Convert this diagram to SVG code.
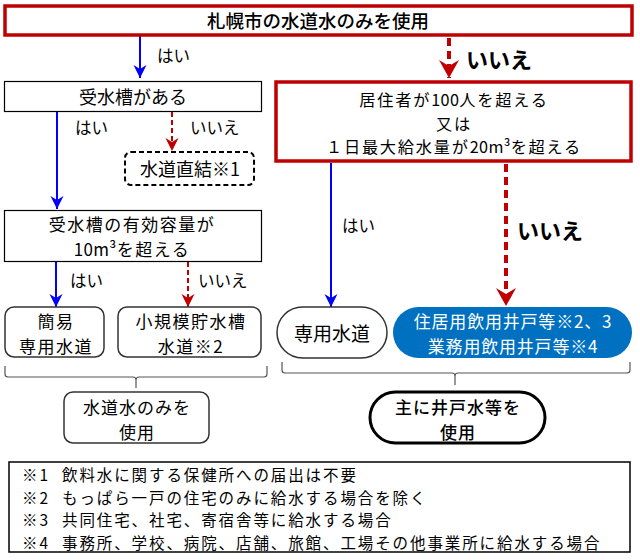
<svg xmlns="http://www.w3.org/2000/svg" width="640" height="560" viewBox="0 0 640 560">
<style>
text{font-family:"Noto Sans CJK JP","Noto Sans",sans-serif;fill:#000;dominant-baseline:central;text-anchor:middle}
.t18{font-size:18px}
.t17{font-size:17px;letter-spacing:1.5px}
.t19{font-size:19px}
.lbl{font-size:16.5px;text-anchor:start}
.big{font-size:22px;font-weight:bold;text-anchor:start}
.fn{font-size:15.5px;text-anchor:start;letter-spacing:1.9px}
.nls{letter-spacing:0.3px}
.box{fill:#fff;stroke:#000;stroke-width:1.2}
.rbox{fill:#fff;stroke:#333;stroke-width:1.5}
.red{fill:#fff;stroke:#c00000;stroke-width:3.5}
.blue{stroke:#0000ff;stroke-width:2;fill:none}
.rd{stroke:#c00000;stroke-width:2;stroke-dasharray:5 3;fill:none}
.rdt{stroke:#c00000;stroke-width:4;stroke-dasharray:8 5;fill:none}
.brace{fill:none;stroke:#555;stroke-width:1.2}
</style>
<defs>
<marker id="ab" markerUnits="userSpaceOnUse" markerWidth="14" markerHeight="14" refX="13" refY="6.5" orient="auto" viewBox="0 0 14 14">
<path d="M0,0 L13,6.5 L0,13 L4,6.5 Z" fill="#0000ff"/>
</marker>
<marker id="ar" markerUnits="userSpaceOnUse" markerWidth="14" markerHeight="14" refX="13" refY="6.5" orient="auto" viewBox="0 0 14 14">
<path d="M0,0 L13,6.5 L0,13 L4,6.5 Z" fill="#c00000"/>
</marker>
<marker id="arb" markerUnits="userSpaceOnUse" markerWidth="20" markerHeight="20" refX="18" refY="10" orient="auto" viewBox="0 0 20 20">
<path d="M0,0 L18,10 L0,20 L6,10 Z" fill="#c00000"/>
</marker>
</defs>

<g id="connectors">
<line class="blue" x1="140" y1="36" x2="140" y2="78" marker-end="url(#ab)"/>
<line class="rdt" x1="449" y1="38" x2="449" y2="78" marker-end="url(#arb)"/>
<line class="blue" x1="57" y1="112" x2="57" y2="209" marker-end="url(#ab)"/>
<line class="rd" x1="172" y1="112" x2="172" y2="151" marker-end="url(#ar)"/>
<line class="blue" x1="56" y1="262" x2="56" y2="307" marker-end="url(#ab)"/>
<line class="rd" x1="188" y1="262" x2="188" y2="307" marker-end="url(#ar)"/>
<line class="blue" x1="331" y1="163" x2="331" y2="307" marker-end="url(#ab)"/>
<line class="rdt" x1="506" y1="164" x2="506" y2="306" marker-end="url(#arb)"/>
<path class="brace" d="M5,366 L5,374 Q5,377 8,377 L133,377 Q136,377 136,380 L136,388 M136,380 Q136,377 139,377 L264,377 Q267,377 267,374 L267,366"/>
<path class="brace" d="M282,362 L282,370 Q282,373 285,373 L452,373 Q455,373 455,376 L455,385 M455,376 Q455,373 458,373 L627,373 Q630,373 630,370 L630,362"/>
<text class="lbl" x="157" y="55">はい</text>
<text class="big" x="466" y="58">いいえ</text>
<text class="lbl" x="75" y="127">はい</text>
<text class="lbl" x="190" y="127">いいえ</text>
<text class="lbl" x="70" y="280">はい</text>
<text class="lbl" x="198" y="280">いいえ</text>
<text class="lbl" x="342" y="225">はい</text>
<text class="big" x="517" y="229">いいえ</text>
</g>

<g id="n-top">
<rect class="red" x="5" y="6" width="627" height="29"/>
<text x="318" y="20" style="font-size:18.5px;font-weight:500">札幌市の水道水のみを使用</text>
</g>

<g id="n-tank">
<rect class="box" x="4.5" y="81.5" width="257" height="30"/>
<text class="t18" x="133" y="96">受水槽がある</text>
</g>

<g id="n-cond">
<rect class="red" x="276" y="82" width="355" height="79"/>
<text style="font-size:16.2px;letter-spacing:1.8px"><tspan x="454" y="99">居住者が<tspan class="nls">100</tspan>人を超える</tspan><tspan x="454" y="122.5">又は</tspan><tspan x="454" y="146">１日最大給水量が<tspan class="nls">20m³</tspan>を超える</tspan></text>
</g>

<g id="n-direct">
<rect x="125" y="152" width="129" height="33" rx="6" fill="#fff" stroke="#000" stroke-width="2" stroke-dasharray="5 3"/>
<text class="t18" x="190" y="168">水道直結※1</text>
</g>

<g id="n-capacity">
<rect class="box" x="4.5" y="210.5" width="257" height="51"/>
<text class="t17"><tspan x="132" y="223">受水槽の有効容量が</tspan><tspan x="132" y="248"><tspan class="nls">10m³</tspan>を超える</tspan></text>
</g>

<g id="n-simple">
<rect class="rbox" x="5" y="307" width="99" height="50" rx="9"/>
<text class="t17"><tspan x="56" y="320">簡易</tspan><tspan x="56" y="345">専用水道</tspan></text>
</g>

<g id="n-small">
<rect class="rbox" x="118" y="307" width="143" height="50" rx="9"/>
<text class="t17"><tspan x="191" y="320">小規模貯水槽</tspan><tspan x="191" y="345">水道※2</tspan></text>
</g>

<g id="n-dedicated">
<rect class="rbox" x="277" y="307" width="110" height="51" rx="25.5"/>
<text class="t19" x="332" y="332">専用水道</text>
</g>

<g id="n-well">
<rect x="393" y="307" width="239" height="51" rx="25.5" fill="#0070c0"/>
<text class="t17" style="fill:#fff;letter-spacing:0.8px"><tspan x="513" y="320">住居用飲用井戸等※2、3</tspan><tspan x="513" y="345">業務用飲用井戸等※4</tspan></text>
</g>

<g id="n-tapwater">
<rect class="rbox" x="64" y="392" width="145" height="51" rx="9"/>
<text class="t17" style="letter-spacing:1px"><tspan x="137" y="406">水道水のみを</tspan><tspan x="137" y="431">使用</tspan></text>
</g>

<g id="n-wellwater">
<rect x="370" y="392" width="175" height="51" rx="25.5" fill="#fff" stroke="#000" stroke-width="3"/>
<text class="t17" style="font-weight:500;letter-spacing:1px"><tspan x="458" y="406">主に井戸水等を</tspan><tspan x="458" y="431">使用</tspan></text>
</g>

<g id="n-notes">
<rect x="9" y="462" width="621" height="90" fill="#fff" stroke="#000" stroke-width="1.5"/>
<text class="fn"><tspan x="22" y="474">※1</tspan><tspan x="62" y="474">飲料水に関する保健所への届出は不要</tspan><tspan x="22" y="496.5">※2</tspan><tspan x="62" y="496.5">もっぱら一戸の住宅のみに給水する場合を除く</tspan><tspan x="22" y="519">※3</tspan><tspan x="62" y="519">共同住宅、社宅、寄宿舎等に給水する場合</tspan><tspan x="22" y="541.5">※4</tspan><tspan x="62" y="541.5">事務所、学校、病院、店舗、旅館、工場その他事業所に給水する場合</tspan></text>
</g>
</svg>
